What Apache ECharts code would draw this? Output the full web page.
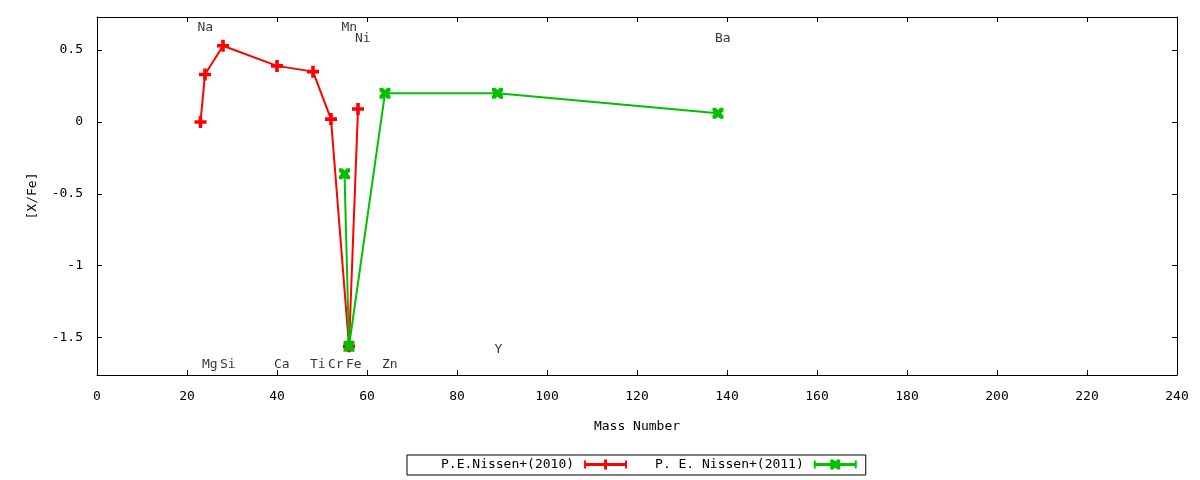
<!DOCTYPE html>
<html>
<head>
<meta charset="utf-8">
<script src="https://cdn.jsdelivr.net/npm/echarts@6/dist/echarts.min.js"></script>
<style>html,body{margin:0;padding:0;background:#fff}#c{width:1200px;height:480px}</style>
</head>
<body>
<div id="c"></div>
<script>
// ---- data ----
var series1Name = 'P.E.Nissen+(2010)';
var series1Mass = [23, 24, 28, 40, 48, 52, 56, 58];
var series1Val  = [0.00, 0.33, 0.53, 0.39, 0.35, 0.02, -1.56, 0.09];

var series2Name = 'P. E. Nissen+(2011)';
var series2Mass = [55, 56, 64, 89, 138];
var series2Val  = [-0.36, -1.56, 0.20, 0.20, 0.06];

var elemNames = ['Na', 'Mn', 'Ni', 'Ba', 'Mg', 'Si', 'Ca', 'Ti', 'Cr', 'Fe', 'Zn', 'Y'];
var elemMass  = [23, 55, 58, 138, 24, 28, 40, 48, 52, 56, 64, 89];
var elemLabelY = [0.655, 0.655, 0.58, 0.58, -1.685, -1.685, -1.685, -1.685, -1.685, -1.685, -1.685, -1.585];

var yTicks = [-1.5, -1, -0.5, 0, 0.5];
var xTicks = [0, 20, 40, 60, 80, 100, 120, 140, 160, 180, 200, 220, 240];

// ---- chart ----
var FONT = 'DejaVu Sans Mono';
function pairs(xs, ys) { return xs.map(function (x, i) { return [x, ys[i]]; }); }

var plusPath = 'path://M3.5,0H6.5V3.5H10V6.5H6.5V10H3.5V6.5H0V3.5H3.5Z';
var xPath = 'path://M0,0L3,0L5,2L7,0L10,0L10,3L8,5L10,7L10,10L7,10L5,8L3,10L0,10L0,7L2,5L0,3Z';
var legRed = 'path://M0,3.5H43V6.5H0Z M0,1H2V9H0Z M41,1H43V9H41Z M20,0H23V10H20Z';
var legGreen = 'path://M0,3.5H43V6.5H0Z M0,1H2V9H0Z M41,1H43V9H41Z M16.5,0L19.5,0L21.5,2L23.5,0L26.5,0L26.5,3L24.5,5L26.5,7L26.5,10L23.5,10L21.5,8L19.5,10L16.5,10L16.5,7L18.5,5L16.5,3Z';

var chart = echarts.init(document.getElementById('c'), null, {renderer: 'canvas'});
var axisCommon = {
  axisLine: {show: true, onZero: false, lineStyle: {color: '#000', width: 1}},
  axisTick: {show: true, inside: true, length: 5, lineStyle: {color: '#000'}},
  splitLine: {show: false}
};
var option = {
  animation: false,
  backgroundColor: '#fff',
  textStyle: {fontFamily: FONT},
  grid: {left: 97, right: 23, top: 17, bottom: 105, containLabel: false},
  legend: {
    left: 407, top: 455,
    align: 'right',
    orient: 'horizontal',
    borderColor: '#000', borderWidth: 1,
    padding: [3, 9, 4, 34],
    itemGap: 28,
    itemWidth: 43, itemHeight: 10,
    textStyle: {fontFamily: FONT, fontSize: 13, color: '#000', padding: [0, 5, 0, 0]},
    data: [
      {name: series1Name, icon: legRed, itemStyle: {color: '#ff0000'}},
      {name: series2Name, icon: legGreen, itemStyle: {color: '#00c000'}}
    ]
  },
  xAxis: [
    Object.assign({}, axisCommon, {
      type: 'value', min: 0, max: 240, interval: 20, position: 'bottom',
      name: 'Mass Number', nameLocation: 'middle', nameGap: 45,
      nameTextStyle: {fontFamily: FONT, fontSize: 13, color: '#000'},
      axisLabel: {margin: 15, fontFamily: FONT, fontSize: 13, color: '#000',
        customValues: xTicks}
    }),
    Object.assign({}, axisCommon, {
      type: 'value', min: 0, max: 240, interval: 20, position: 'top',
      axisLabel: {show: false}
    })
  ],
  yAxis: [
    Object.assign({}, axisCommon, {
      type: 'value', min: -1.76, max: 0.73, position: 'left',
      name: '[X/Fe]', nameLocation: 'middle', nameGap: 58,
      nameTextStyle: {fontFamily: FONT, fontSize: 13, color: '#000'},
      axisTick: {show: true, inside: true, length: 5, lineStyle: {color: '#000'}, customValues: yTicks},
      axisLabel: {margin: 14, fontFamily: FONT, fontSize: 13, color: '#000', customValues: yTicks}
    }),
    Object.assign({}, axisCommon, {
      type: 'value', min: -1.76, max: 0.73, position: 'right',
      axisTick: {show: true, inside: true, length: 5, lineStyle: {color: '#000'}, customValues: yTicks},
      axisLabel: {show: false}
    })
  ],
  series: [
    {
      name: series1Name, type: 'line', xAxisIndex: 0, yAxisIndex: 0,
      data: pairs(series1Mass, series1Val),
      symbol: plusPath, symbolSize: 12, showAllSymbol: true,
      lineStyle: {color: '#ff0000', width: 2},
      itemStyle: {color: '#ff0000'},
      z: 2
    },
    {
      name: series2Name, type: 'line', xAxisIndex: 0, yAxisIndex: 0,
      data: pairs(series2Mass, series2Val),
      symbol: xPath, symbolSize: 11, showAllSymbol: true,
      lineStyle: {color: '#00c000', width: 2},
      itemStyle: {color: '#00c000'},
      z: 3
    },
    {
      name: 'labels', type: 'scatter', xAxisIndex: 0, yAxisIndex: 0,
      symbolSize: 0, silent: true,
      data: elemMass.map(function (m, i) { return {value: [m, elemLabelY[i]], name: elemNames[i]}; }),
      label: {show: true, position: 'inside', align: 'left', verticalAlign: 'middle', offset: [-3, 0],
        formatter: function (p) { return p.name; },
        fontFamily: FONT, fontSize: 13, color: '#000'},
      z: 4
    }
  ]
};
chart.setOption(option);
</script>
</body>
</html>
